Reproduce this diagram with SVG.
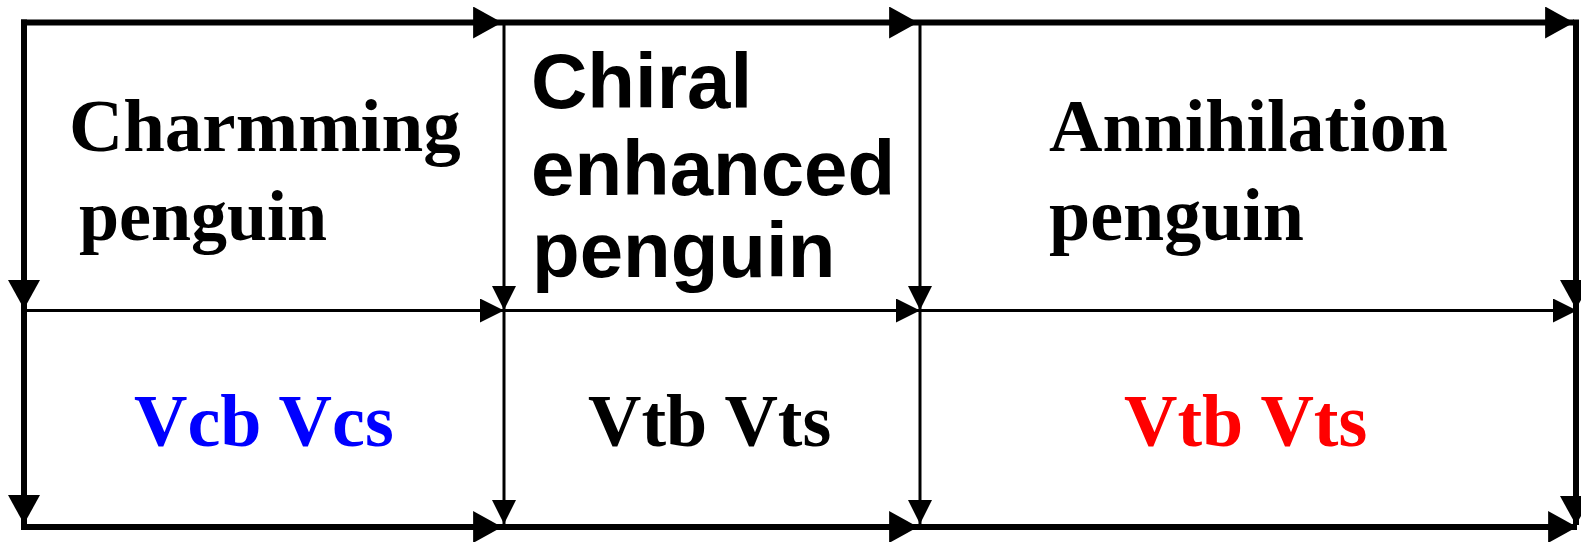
<svg xmlns="http://www.w3.org/2000/svg" width="1581" height="542" viewBox="0 0 1581 542">
  <style>
    .thick { stroke: #000; stroke-width: 6; fill: none; marker-end: url(#headBig); }
    .thin { stroke: #000; stroke-width: 3; fill: none; marker-end: url(#headSmall); }
    .serif { font-family: "Liberation Serif", "Times New Roman", serif; font-weight: bold; font-size: 74px; }
    .sans { font-family: "Liberation Sans", Arial, sans-serif; font-weight: bold; font-size: 78px; }
  </style>
  <defs>
    <marker id="headBig" markerUnits="userSpaceOnUse" markerWidth="30" markerHeight="32" viewBox="0 0 28 31" refX="28" refY="15.5" orient="auto">
      <path d="M0,0 L28,15.5 L0,31 z" fill="#000"/>
    </marker>
    <marker id="headSmall" markerUnits="userSpaceOnUse" markerWidth="24" markerHeight="24" viewBox="0 0 22 22" refX="22" refY="11" orient="auto">
      <path d="M0,0 L22,11 L0,22 z" fill="#000"/>
    </marker>
  </defs>
  <rect width="1581" height="542" fill="#fff"/>

  <g id="connectors">
    <!-- top edge -->
    <path class="thick" d="M21,22.5 H502"/>
    <path class="thick" d="M502,22.5 H918"/>
    <path class="thick" d="M918,22.5 H1574"/>
    <!-- bottom edge -->
    <path class="thick" d="M21,527 H502"/>
    <path class="thick" d="M502,527 H918"/>
    <path class="thick" d="M918,527 H1577"/>
    <!-- left edge -->
    <path class="thick" d="M24,19.5 V309"/>
    <path class="thick" d="M24,309 V524"/>
    <!-- right edge -->
    <path class="thick" d="M1576,19.5 V309"/>
    <path class="thick" d="M1576,309 V525"/>
    <!-- middle horizontal -->
    <path class="thin" d="M24,310.5 H504"/>
    <path class="thin" d="M504,310.5 H920"/>
    <path class="thin" d="M920,310.5 H1577"/>
    <!-- inner verticals -->
    <path class="thin" d="M504,22.5 V310"/>
    <path class="thin" d="M504,310 V524"/>
    <path class="thin" d="M920,22.5 V310"/>
    <path class="thin" d="M920,310 V524"/>
  </g>

  <g id="charming-penguin">
    <text class="serif" x="69" y="151" style="font-size:75px">Charmming</text>
    <text class="serif" x="79" y="240" style="font-size:72px">penguin</text>
  </g>
  <g id="chiral-enhanced-penguin">
    <text class="sans" x="531" y="108">Chiral</text>
    <text class="sans" x="531" y="195">enhanced</text>
    <text class="sans" x="532" y="277">penguin</text>
  </g>
  <g id="annihilation-penguin">
    <text class="serif" x="1049" y="151">Annihilation</text>
    <text class="serif" x="1049" y="240">penguin</text>
  </g>
  <g id="ckm-charming">
    <text class="serif" x="134" y="446" fill="#0000ff">Vcb Vcs</text>
  </g>
  <g id="ckm-chiral">
    <text class="serif" x="588" y="446" fill="#000">Vtb Vts</text>
  </g>
  <g id="ckm-annihilation">
    <text class="serif" x="1124" y="446" fill="#ff0000">Vtb Vts</text>
  </g>
</svg>
